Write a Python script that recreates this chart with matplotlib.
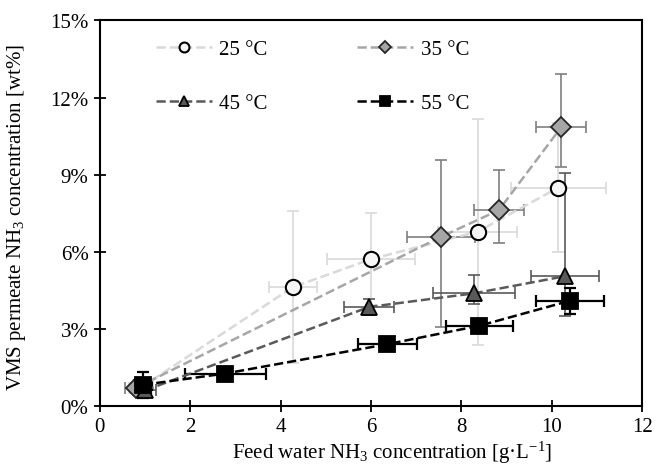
import matplotlib
matplotlib.use("Agg")
from matplotlib import pyplot as plt
from matplotlib.ticker import FuncFormatter

plt.rcParams['font.family'] = ['Liberation Serif', 'DejaVu Serif']
plt.rcParams['mathtext.fontset'] = 'custom'
plt.rcParams['mathtext.rm'] = 'Liberation Serif'

# data: feed NH3 [g/L], permeate NH3 [wt%], error bars
x25 = [0.90, 4.27, 6.00, 8.36, 10.14]
y25 = [0.70, 4.62, 5.71, 6.78, 8.49]
xe25 = [0.25, 0.53, 0.98, 0.88, 1.05]
ye25 = [0.25, 2.95, 1.80, 4.40, 2.50]

x35 = [0.80, 7.55, 8.83, 10.21]
y35 = [0.70, 6.58, 7.62, 10.85]
xe35 = [0.25, 0.76, 0.55, 0.55]
ye35_lo = [0.20, 3.50, 1.30, 1.55]
ye35_hi = [0.20, 3.00, 1.55, 2.05]

x45 = [1.00, 5.96, 8.28, 10.30]
y45 = [0.60, 3.85, 4.38, 5.05]
xe45 = [0.25, 0.55, 0.90, 0.75]
ye45_lo = [0.20, 0.30, 0.40, 1.55]
ye45_hi = [0.20, 0.30, 0.70, 4.00]

x55 = [0.96, 2.78, 6.36, 8.40, 10.40]
y55 = [0.82, 1.26, 2.40, 3.12, 4.09]
xe55 = [0.20, 0.90, 0.65, 0.75, 0.75]
ye55 = [0.50, 0.20, 0.20, 0.25, 0.50]

fig = plt.figure(figsize=(6.56, 4.77), dpi=100)
ax = fig.add_axes([0.152, 0.147, 0.827, 0.808])

ax.errorbar(x25, y25, xerr=xe25, yerr=ye25, fmt='none', ecolor='#d9d9d9',
            elinewidth=1.2, capsize=4, capthick=1.2, zorder=2)
ax.errorbar(x35, y35, xerr=xe35, yerr=[ye35_lo, ye35_hi], fmt='none', ecolor='#7f7f7f',
            elinewidth=1.2, capsize=4, capthick=1.2, zorder=2)
ax.errorbar(x45, y45, xerr=xe45, yerr=[ye45_lo, ye45_hi], fmt='none', ecolor='#595959',
            elinewidth=1.2, capsize=4, capthick=1.2, zorder=2)
ax.errorbar(x55, y55, xerr=xe55, yerr=ye55, fmt='none', ecolor='#000000',
            elinewidth=1.6, capsize=4, capthick=1.6, zorder=2)

l25, = ax.plot(x25, y25, ls='--', color='#d9d9d9', lw=1.8, marker='o', ms=11,
               mfc='#f5f5f5', mec='black', mew=1.5, label='25 °C', zorder=3)
l35, = ax.plot(x35, y35, ls='--', color='#a6a6a6', lw=1.8, marker='D', ms=10,
               mfc='#a6a6a6', mec='#262626', mew=1.3, label='35 °C', zorder=3)
l45, = ax.plot(x45, y45, ls='--', color='#595959', lw=1.8, marker='^', ms=12,
               mfc='#595959', mec='black', mew=1.3, label='45 °C', zorder=3)
l55, = ax.plot(x55, y55, ls='--', color='black', lw=1.8, marker='s', ms=11,
               mfc='black', mec='black', mew=1.3, label='55 °C', zorder=3)

ax.set_xlim(0, 12)
ax.set_ylim(0, 15)
ax.set_xticks(range(0, 13, 2))
ax.set_yticks(range(0, 16, 3))
ax.yaxis.set_major_formatter(FuncFormatter(lambda v, p: '%d%%' % v))
ax.tick_params(direction='inout', length=8, width=1.3, labelsize=15, pad=4)
for s in ax.spines.values():
    s.set_linewidth(1.5)

ax.set_xlabel(r'Feed water NH$\mathregular{_3}$ concentration [g·L$\mathregular{^{-1}}$]', fontsize=15)
ax.set_ylabel(r'VMS permeate NH$\mathregular{_3}$ concentration [wt%]', fontsize=15)
ax.xaxis.set_label_coords(0.539, -0.085)
ax.yaxis.set_label_coords(-0.133, 0.49)

# column-first fill, so order handles to get 25/35 on the top row
ax.legend([l25, l45, l35, l55], ['25 °C', '45 °C', '35 °C', '55 °C'],
          loc='upper left', bbox_to_anchor=(0.103, 0.95), ncol=2, frameon=False,
          fontsize=15, markerscale=0.65, handlelength=2.7, columnspacing=4.3,
          labelspacing=1.65, handletextpad=0.35, borderpad=0, borderaxespad=0)

fig.savefig('out.png', dpi=100)
